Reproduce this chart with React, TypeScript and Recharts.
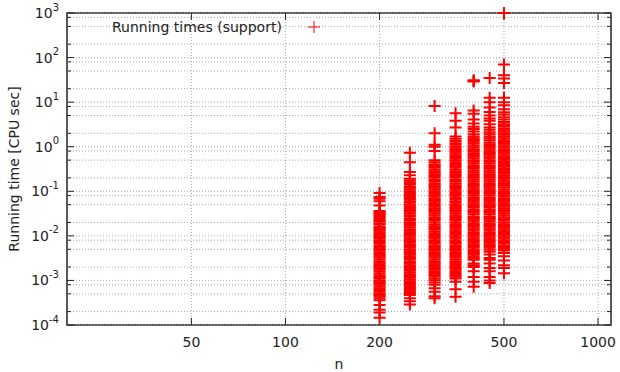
import { ScatterChart, Scatter, XAxis, YAxis, ReferenceLine, ReferenceArea, Legend } from 'recharts'

// problem sizes (x) and measured running times per size (y, CPU sec)
const N_VALUES = [200, 250, 300, 350, 400, 450, 500]

const T200 = [
    0.091, 0.074, 0.068, 0.06, 0.048,
    0.036, 0.034, 0.032, 0.03, 0.028, 0.026, 0.024, 0.022, 0.021, 0.019, 0.018, 0.016, 0.015, 0.014, 0.013, 0.012, 0.011, 0.01,
    0.0094, 0.0087, 0.008, 0.0073, 0.0067, 0.0061, 0.0056, 0.0051, 0.0047, 0.0043, 0.0039, 0.0036, 0.0033, 0.003, 0.0027, 0.0025,
    0.0023, 0.0021, 0.0019, 0.00175, 0.0016, 0.00145, 0.0013, 0.0012, 0.0011, 0.001,
    0.00094, 0.00087, 0.0008, 0.00073, 0.00067, 0.00061, 0.00056, 0.00051, 0.00047, 0.00044,
    0.0004, 0.00036, 0.00028, 0.00022, 0.00019, 0.000145,
]
const T250 = [
    0.73, 0.45, 0.27, 0.23,
    0.19, 0.175, 0.16, 0.145, 0.13, 0.12, 0.11, 0.1, 0.092, 0.085, 0.078, 0.071, 0.065, 0.06, 0.055, 0.05, 0.046, 0.042, 0.038,
    0.035, 0.032, 0.029, 0.027, 0.024, 0.022, 0.02, 0.0185, 0.017, 0.0155, 0.014, 0.013, 0.012, 0.011, 0.01, 0.0092, 0.0084,
    0.0077, 0.007, 0.0064, 0.0059, 0.0054, 0.0049, 0.0045, 0.0041, 0.0038, 0.0035, 0.0032, 0.0029, 0.0026, 0.0024, 0.0022, 0.002,
    0.0018, 0.00165, 0.0015, 0.00138, 0.00126, 0.00115, 0.00105, 0.00096, 0.00088, 0.0008, 0.00074, 0.00068,
    0.00062, 0.00057, 0.00052, 0.00047, 0.0004, 0.00034, 0.00029,
]
const T300 = [
    8.2, 2.0, 1.1, 1.0, 0.8, 0.5, 0.45,
    0.4, 0.37, 0.34, 0.31, 0.28, 0.26, 0.24, 0.22, 0.2, 0.18, 0.165, 0.15, 0.14, 0.13, 0.12, 0.11, 0.1, 0.092, 0.084, 0.077,
    0.07, 0.064, 0.059, 0.054, 0.049, 0.045, 0.041, 0.038, 0.035, 0.032, 0.029, 0.026, 0.024, 0.022, 0.02, 0.018, 0.0165, 0.015,
    0.0138, 0.0126, 0.0115, 0.0105, 0.0096, 0.0088, 0.008, 0.0073, 0.0067, 0.0061, 0.0056, 0.0051, 0.0047, 0.0043, 0.0039,
    0.0036, 0.0033, 0.003, 0.0027, 0.0025, 0.0023, 0.0021, 0.0019, 0.00175, 0.0016, 0.00146, 0.00133, 0.00122, 0.00111, 0.00101,
    0.0009, 0.0008, 0.00067, 0.00056, 0.00044, 0.0004,
]
const T350 = [
    5.6, 3.8, 2.7, 1.7, 1.5, 1.35, 1.2, 1.1,
    1.0, 0.92, 0.84, 0.77, 0.7, 0.64, 0.59, 0.54, 0.49, 0.45, 0.41, 0.37, 0.34, 0.31, 0.28, 0.26, 0.24, 0.22, 0.2,
    0.18, 0.165, 0.15, 0.137, 0.125, 0.114, 0.104, 0.095, 0.087, 0.079, 0.072, 0.066, 0.06, 0.055, 0.05, 0.046, 0.042, 0.038,
    0.035, 0.032, 0.029, 0.0265, 0.024, 0.022, 0.02, 0.0183, 0.0167, 0.0152, 0.0139, 0.0127, 0.0116, 0.0106, 0.0097, 0.0088,
    0.008, 0.0073, 0.0067, 0.0061, 0.0056, 0.0051, 0.0047, 0.0043, 0.0039, 0.0036, 0.0033, 0.003, 0.0027, 0.0025, 0.0023, 0.0021,
    0.0019, 0.00175, 0.0016, 0.00146, 0.00133, 0.00121, 0.0011,
    0.00093, 0.00063, 0.00043,
]
const T400 = [
    31, 30, 29, 6.5, 5.5, 4.1, 3.3, 2.8, 2.5, 2.2, 1.9, 1.7, 1.55, 1.42, 1.3, 1.18, 1.07, 0.97, 0.88, 0.83,
    0.78, 0.71, 0.65, 0.6, 0.55, 0.5, 0.46, 0.42, 0.38, 0.35, 0.32, 0.29, 0.265, 0.24, 0.22, 0.2, 0.183, 0.167, 0.152, 0.139,
    0.127, 0.116, 0.106, 0.097, 0.088, 0.08, 0.073, 0.067, 0.061, 0.056, 0.051, 0.047, 0.043, 0.039, 0.036, 0.033, 0.03, 0.027,
    0.025, 0.023, 0.021, 0.019, 0.0175, 0.016, 0.0146, 0.0133, 0.0121, 0.011, 0.01, 0.0092, 0.0084, 0.0077, 0.007, 0.0064,
    0.0059, 0.0054, 0.0049, 0.0045, 0.0041, 0.0038,
    0.0035, 0.0032, 0.0029, 0.0024, 0.0022, 0.002, 0.0016, 0.0012, 0.00093, 0.00072,
]
const T450 = [
    35, 12.6, 10, 7.6, 6, 5, 4.3, 3.8, 3.2, 2.7, 2.4, 2.1, 1.9, 1.7, 1.55, 1.4,
    1.25, 1.14, 1.04, 0.95, 0.87, 0.79, 0.72, 0.66, 0.6, 0.55, 0.5, 0.46, 0.42, 0.38, 0.35, 0.32, 0.29, 0.265, 0.24, 0.22, 0.2,
    0.183, 0.167, 0.152, 0.139, 0.127, 0.116, 0.106, 0.097, 0.088, 0.08, 0.073, 0.067, 0.061, 0.056, 0.051, 0.047, 0.043, 0.039,
    0.036, 0.033, 0.03, 0.027, 0.025, 0.023, 0.021, 0.019, 0.0175, 0.016, 0.0146, 0.0133, 0.0121, 0.011, 0.01, 0.0092, 0.0084,
    0.0077, 0.007, 0.0064, 0.0059, 0.0054, 0.0049,
    0.0044, 0.0038, 0.0032, 0.0029, 0.0024, 0.0019, 0.0016, 0.0012, 0.001, 0.00087,
]
const T500 = [
    1000, 70, 40, 34, 27, 12.5, 10, 8.5, 6.9, 5.9, 5.3, 4.6, 4.1, 3.6, 3.2, 2.9, 2.6, 2.4, 2.2, 2.0, 1.85,
    1.7, 1.55, 1.4, 1.28, 1.17, 1.06, 0.97, 0.88, 0.8, 0.73, 0.67, 0.61, 0.56, 0.51, 0.47, 0.43, 0.39, 0.36, 0.33, 0.3, 0.27,
    0.25, 0.23, 0.21, 0.19, 0.175, 0.16, 0.146, 0.133, 0.121, 0.11, 0.1, 0.092, 0.084, 0.077, 0.07, 0.064, 0.059, 0.054, 0.049,
    0.045, 0.041, 0.038, 0.035, 0.032, 0.029, 0.026, 0.024, 0.022, 0.02, 0.0183, 0.0167, 0.0152, 0.0139, 0.0127, 0.0116,
    0.0106, 0.0097, 0.0088, 0.008, 0.0073, 0.0067, 0.0061, 0.0056, 0.0051,
    0.0047, 0.0041, 0.0035, 0.0028, 0.0022, 0.0019, 0.00145,
]
const TIMES = [T200, T250, T300, T350, T400, T450, T500]

const X_TICKS = [50, 100, 200, 500, 1000]
const Y_TICKS = [1e-4, 1e-3, 0.01, 0.1, 1, 10, 100, 1000]
// extra dotted grid lines between decades (2, 5, 8 x 10^k)
const Y_MINOR = [
    2e-4, 5e-4, 8e-4, 2e-3, 5e-3, 8e-3, 0.02, 0.05, 0.08, 0.2, 0.5, 0.8,
    2, 5, 8, 20, 50, 80, 200, 500, 800,
]

const FONT = '"DejaVu Sans", sans-serif'
const TEXT = '#222'
const GRID = '#a8a8a8'
const RED = '#ff0000'

const points = N_VALUES.flatMap((n, i) => TIMES[i].map(t => ({ n, t })))

const Plus = (props: any) => {
    const { cx, cy } = props
    if (cx == null || cy == null) return null
    return <path d={`M${cx - 6},${cy}h12M${cx},${cy - 6}v12`} stroke={RED} strokeWidth={2} fill="none" />
}

// dotted horizontal grid line with inward ticks on both sides
const hGrid = (len: number) => (props: any) => {
    const { x1, x2, y1 } = props
    const l = Math.min(x1, x2)
    const r = Math.max(x1, x2)
    return (
        <g>
            <line x1={l} x2={r} y1={y1} y2={y1} stroke={GRID} strokeDasharray="1 2" />
            <line x1={l} x2={l + len} y1={y1} y2={y1} stroke={TEXT} />
            <line x1={r - len} x2={r} y1={y1} y2={y1} stroke={TEXT} />
        </g>
    )
}

const vGrid = (props: any) => {
    const { x1, y1, y2 } = props
    const top = Math.min(y1, y2)
    const bottom = Math.max(y1, y2)
    return (
        <g>
            <line x1={x1} x2={x1} y1={top} y2={bottom} stroke={GRID} strokeDasharray="1 2" />
            <line x1={x1} x2={x1} y1={top} y2={top + 7} stroke={TEXT} />
            <line x1={x1} x2={x1} y1={bottom - 7} y2={bottom} stroke={TEXT} />
        </g>
    )
}

const XTick = (props: any) => {
    const { x, y, payload } = props
    return (
        <text x={x} y={y + 22} textAnchor="middle" fontFamily={FONT} fontSize={14} fill={TEXT}>
            {payload.value}
        </text>
    )
}

const YTick = (props: any) => {
    const { x, y, payload } = props
    const exp = Math.round(Math.log10(payload.value))
    return (
        <text x={x} y={y} textAnchor="end" fontFamily={FONT} fontSize={14} fill={TEXT}>
            <tspan dy={5}>10</tspan>
            <tspan dy={-7.5} fontSize={10}>{exp}</tspan>
        </text>
    )
}

const LegendBox = () => (
    <div style={{ display: 'flex', alignItems: 'center', fontFamily: FONT, fontSize: 14, color: TEXT, whiteSpace: 'nowrap' }}>
        <span>Running times (support)</span>
        <svg width={12} height={12} style={{ marginLeft: 26 }}>
            <path d="M0,6h12M6,0v12" stroke={RED} strokeWidth={1} />
        </svg>
    </div>
)

export default function App() {
    return (
        <div style={{ position: 'absolute', left: 0, top: 0, width: 620, height: 372, background: '#fff' }}>
            <ScatterChart width={620} height={372} margin={{ top: 13, right: 9, bottom: 0, left: 0 }}>
                <XAxis
                    dataKey="n"
                    type="number"
                    scale="log"
                    domain={[20, 1100]}
                    ticks={X_TICKS}
                    interval={0}
                    axisLine={false}
                    tickLine={false}
                    tickSize={0}
                    tickMargin={0}
                    height={47}
                    tick={<XTick />}
                    label={{ value: 'n', position: 'insideBottom', offset: 3, fill: TEXT, fontSize: 14, fontFamily: FONT }}
                />
                <YAxis
                    dataKey="t"
                    type="number"
                    scale="log"
                    domain={[1e-4, 1e3]}
                    ticks={Y_TICKS}
                    interval={0}
                    axisLine={false}
                    tickLine={false}
                    tickSize={0}
                    tickMargin={8}
                    width={67}
                    tick={<YTick />}
                    label={{
                        content: () => (
                            <text transform="translate(18.5,169) rotate(-90)" textAnchor="middle" fontFamily={FONT} fontSize={14} fill={TEXT}>
                                Running time [CPU sec]
                            </text>
                        ),
                    }}
                />
                {Y_MINOR.map(v => (
                    <ReferenceLine key={`ym-${v}`} y={v} shape={hGrid(4)} />
                ))}
                {Y_TICKS.map(v => (
                    <ReferenceLine key={`yM-${v}`} y={v} shape={hGrid(7)} />
                ))}
                {X_TICKS.map(v => (
                    <ReferenceLine key={`x-${v}`} x={v} shape={vGrid} />
                ))}
                <ReferenceArea x1={20} x2={1100} y1={1e-4} y2={1e3} fill="none" stroke={TEXT} strokeWidth={1.5} />
                <Legend
                    layout="horizontal"
                    verticalAlign="middle"
                    align="center"
                    wrapperStyle={{ top: 19, left: 112, width: 'auto' }}
                    content={() => <LegendBox />}
                />
                <Scatter
                    name="Running times (support)"
                    data={points}
                    shape={(p: any) => <Plus {...p} />}
                    isAnimationActive={false}
                />
            </ScatterChart>
        </div>
    )
}
